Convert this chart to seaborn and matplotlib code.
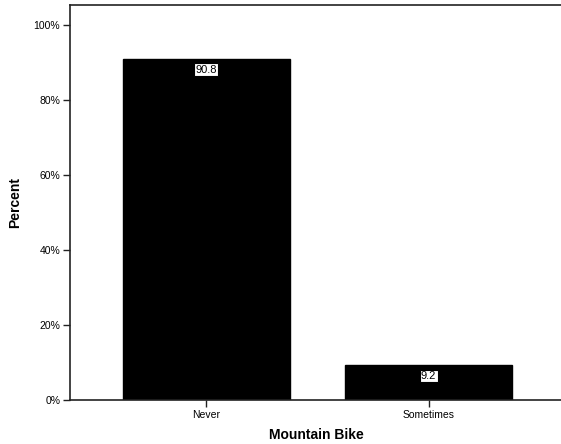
#!/usr/bin/env python3

import matplotlib.pyplot as plt
import matplotlib.ticker as mticker
import pandas as pd
import seaborn as sns

sns.set_style("white")
plt.rcParams['font.family'] = ['Liberation Sans', 'DejaVu Sans']
plt.rcParams['text.color'] = 'black'
plt.rcParams['axes.labelcolor'] = 'black'
plt.rcParams['xtick.color'] = 'black'
plt.rcParams['ytick.color'] = 'black'

categories = ['Never', 'Sometimes']
percents = [90.8, 9.2]

df = pd.DataFrame({'bike': categories, 'percent': percents})

fig = plt.figure(figsize=(5.61, 4.44), dpi=100)
ax = fig.add_axes([70 / 561, 44 / 444, 493 / 561, 395 / 444])

sns.barplot(ax=ax, data=df, x='bike', y='percent', order=categories,
            color='black', width=0.75, saturation=1, edgecolor='black')

for bar, val in zip(ax.patches, percents):
    ax.annotate(f"{val:.1f}",
                xy=(bar.get_x() + bar.get_width() / 2, bar.get_height()),
                xytext=(0, -7.5), textcoords='offset points',
                ha='center', va='center', fontsize=8, color='black',
                bbox=dict(boxstyle='square,pad=0.12', fc='white', ec='black', lw=0.8))

ax.set_xlim(-0.613, 1.605)
ax.set_ylim(0, 105.3)
ax.set_yticks([0, 20, 40, 60, 80, 100])
ax.yaxis.set_major_formatter(mticker.FuncFormatter(lambda v, p: f"{v:.0f}%"))

ax.tick_params(axis='both', direction='out', length=5, width=1, color='#222222',
               labelsize=7.5, pad=2, left=True, bottom=True)
for side in ['left', 'bottom', 'top']:
    ax.spines[side].set_color('#222222')
    ax.spines[side].set_linewidth(1.2)
ax.spines['right'].set_visible(False)

ax.set_xlabel("Mountain Bike", fontsize=10, fontweight='bold', labelpad=6)
ax.set_ylabel("Percent", fontsize=10, fontweight='bold', labelpad=10)
ax.yaxis.set_label_coords(-48 / 493, 0.5)

plt.savefig("out.png", dpi=100)
